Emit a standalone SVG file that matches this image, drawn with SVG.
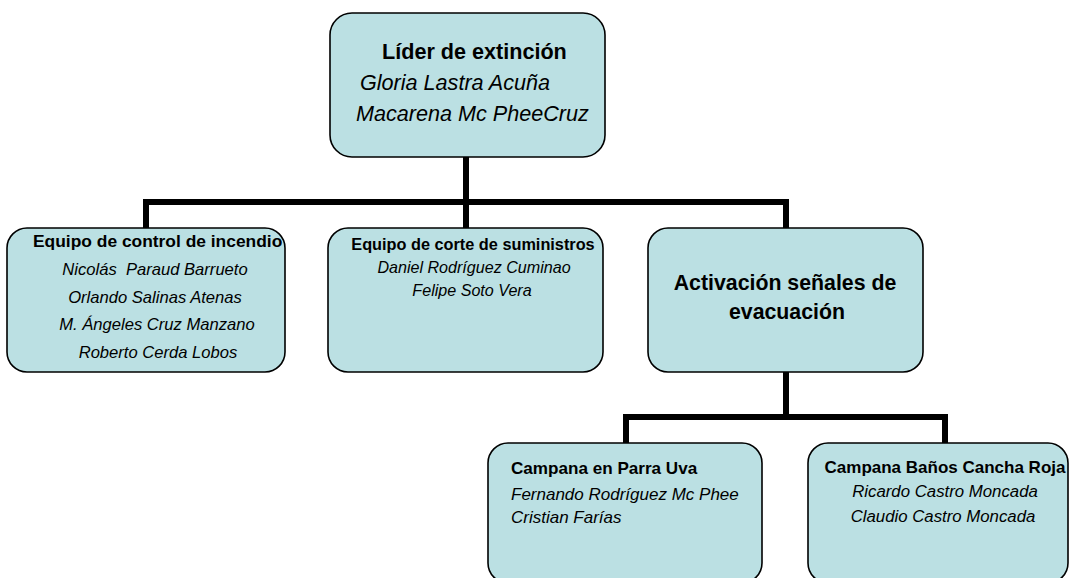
<svg xmlns="http://www.w3.org/2000/svg" width="1070" height="578" viewBox="0 0 1070 578">
<style>
.box{fill:#bbe0e3;stroke:#000;stroke-width:1.6}
.conn{fill:none;stroke:#000;stroke-width:6;stroke-linejoin:miter}
text{font-family:"Liberation Sans",Arial,sans-serif;fill:#000;white-space:pre}
.b{font-weight:bold}
.i{font-style:italic}
.m{text-anchor:middle}
</style>
<rect width="1070" height="578" fill="#fff"/>
<g id="connectors">
<path class="conn" d="M466,157 V202 M146,228 V202 H786 V228 M466,202 V228"/>
<path class="conn" d="M786,372 V417 M626,443 V417 H945 V443"/>
</g>
<g id="lider">
<rect class="box" x="330" y="13" width="275" height="144" rx="22"/>
<text class="b" x="382" y="59" font-size="21.6">Líder de extinción</text>
<text class="i" x="360" y="90" font-size="21.6">Gloria Lastra Acuña</text>
<text class="i" x="356" y="121" font-size="21.6">Macarena Mc PheeCruz</text>
</g>
<g id="control">
<rect class="box" x="7" y="228" width="278" height="144" rx="20"/>
<text class="b" x="33" y="247" font-size="17.4">Equipo de control de incendio</text>
<text class="i m" x="155" y="275" font-size="16.6" xml:space="preserve">Nicolás  Paraud Barrueto</text>
<text class="i m" x="155" y="303" font-size="16.6">Orlando Salinas Atenas</text>
<text class="i m" x="157" y="330" font-size="16.6">M. Ángeles Cruz Manzano</text>
<text class="i m" x="158" y="358" font-size="16.6">Roberto Cerda Lobos</text>
</g>
<g id="corte">
<rect class="box" x="328" y="228" width="275" height="144" rx="20"/>
<text class="b m" x="473" y="250" font-size="16.3">Equipo de corte de suministros</text>
<text class="i m" x="474" y="273" font-size="16.1">Daniel Rodríguez Cuminao</text>
<text class="i m" x="472" y="296" font-size="16.1">Felipe Soto Vera</text>
</g>
<g id="activacion">
<rect class="box" x="648" y="228" width="275" height="144" rx="20"/>
<text class="b m" x="785" y="290" font-size="21.3">Activación señales de</text>
<text class="b m" x="787" y="319" font-size="21.3">evacuación</text>
</g>
<g id="parra">
<rect class="box" x="488" y="443" width="274" height="140" rx="20"/>
<text class="b" x="511" y="474" font-size="17.1">Campana en Parra Uva</text>
<text class="i" x="511" y="500" font-size="17">Fernando Rodríguez Mc Phee</text>
<text class="i" x="511" y="523" font-size="17">Cristian Farías</text>
</g>
<g id="banos">
<rect class="box" x="808" y="443" width="260" height="140" rx="20"/>
<text class="b m" x="945" y="473" font-size="17">Campana Baños Cancha Roja</text>
<text class="i m" x="945" y="497" font-size="16.8">Ricardo Castro Moncada</text>
<text class="i m" x="943" y="522" font-size="16.8">Claudio Castro Moncada</text>
</g>
</svg>
